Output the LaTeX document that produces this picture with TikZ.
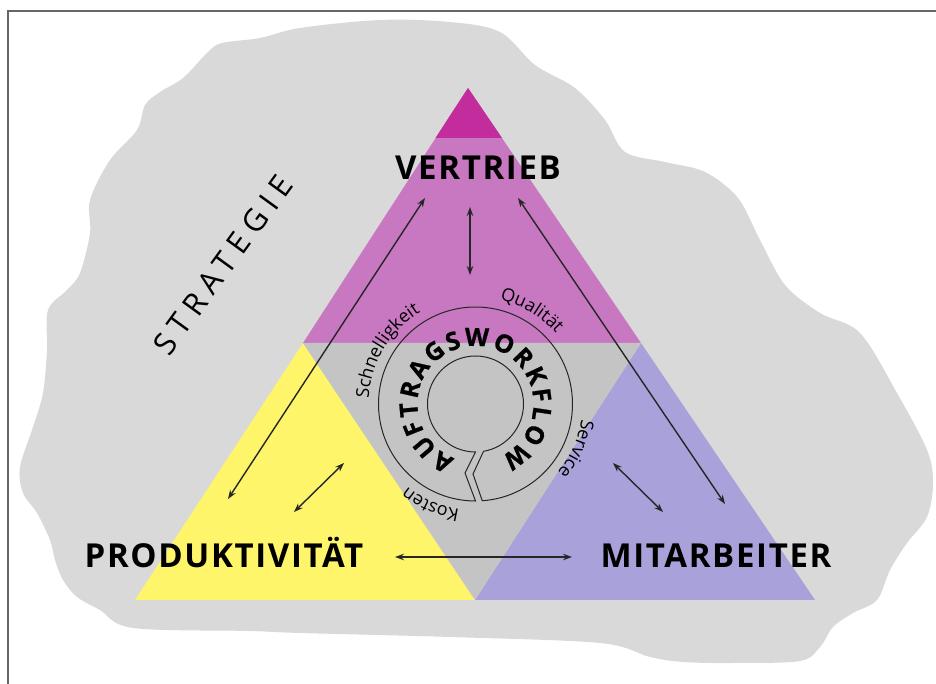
\documentclass[tikz,border=0pt]{standalone}
\usepackage{fontspec}
\setmainfont{Open Sans}
\newfontfamily\labelfont[LetterSpace=5]{Open Sans}
\newfontfamily\stratfont[LetterSpace=24]{Open Sans}
\newfontfamily\flowfam[BoldFeatures={FakeBold=0.8}]{Open Sans}
\usetikzlibrary{arrows.meta,decorations.text}

\definecolor{blobgray}{HTML}{D9D9D9}
\definecolor{coregray}{HTML}{C3C4C3}
\definecolor{salespink}{HTML}{C778C1}
\definecolor{tippink}{HTML}{C22C9C}
\definecolor{prodyellow}{HTML}{FFF56B}
\definecolor{staffblue}{HTML}{A9A1D9}

\newcommand\ringfont{\fontsize{18}{19}\selectfont}
\newcommand\flowfont{\flowfam\bfseries\fontsize{25}{26}\selectfont}

\begin{document}
\begin{tikzpicture}[x=1pt,y=1pt,
	link/.style={{Stealth[length=9pt,width=6.5pt]}-{Stealth[length=9pt,width=6.5pt]}, line width=1.4pt, black!85},
	corner/.style={anchor=base, font=\labelfont\bfseries\fontsize{33}{36}\selectfont},
	ringtext/.style={decorate, decoration={text along path, text align=center, text={|\ringfont|#1}}}]
	\useasboundingbox (0,0) rectangle (936,684);
	\draw[gray!80!black, line width=1.2pt] (8,0) -- (8,673) -- (936,673);

	% strategy cloud
	\fill[blobgray] plot[smooth cycle, tension=0.55] coordinates {
		(222,641) (260,646) (300,656) (380,664) (450,662) (500,652) (535,619) (575,596)
		(605,564) (625,532) (665,522) (705,512) (738,486) (760,444) (785,399) (820,371)
		(860,351) (897,291) (927,234) (933,201) (927,167) (907,141) (890,114) (877,84)
		(853,71) (833,57) (820,37) (800,23) (733,21) (683,22) (650,27) (600,41)
		(450,47) (300,51) (250,53) (133,56) (100,74) (77,87) (63,104) (55,124)
		(50,144) (37,171) (23,191) (20,217) (33,257) (43,291) (47,334) (48,374)
		(67,394) (80,411) (90,451) (90,484) (110,524) (137,554) (145,579) (160,592)
		(183,606) (208,632)};

	% triangle
	\fill[salespink] (468,596) -- (641,341) -- (303,341) -- cycle;
	\fill[tippink] (468,596) -- (502,546) -- (435.5,546) -- cycle;
	\fill[prodyellow] (303,341) -- (475,84) -- (135,84) -- cycle;
	\fill[staffblue] (641,341) -- (815,84) -- (475,84) -- cycle;
	\fill[coregray] (303,341) -- (641,341) -- (475,84) -- cycle;

	% workflow ring
	\coordinate (core) at (475.5,280);
	\draw[line width=1pt, black!85] (core) ++(-85.9:97) arc[start angle=-85.9, end angle=270, radius=97]
		-- (465,211) -- (475.5,232) arc[start angle=270, end angle=-80.4, radius=48]
		-- (473,210) -- (482,184) -- cycle;
	\path[decorate, decoration={text along path, text align=fit to path, text={|\flowfont|AUFTRAGSWORKFLOW}}]
		(core) ++(249:58) arc[start angle=249, end angle=-64, radius=58];
	\path[ringtext=Schnelligkeit] (core) ++(199:107) arc[start angle=199, end angle=99, radius=107];
	\path[ringtext=Qualität] (core) ++(109:107) arc[start angle=109, end angle=9, radius=107];
	\path[ringtext=Service] (core) ++(26:107) arc[start angle=26, end angle=-74, radius=107];
	\path[ringtext=Kosten] (core) ++(296:107) arc[start angle=296, end angle=196, radius=107];

	% labels
	\node[corner] (vertrieb) at (478,504) {VERTRIEB};
	\node[corner] (produkt) at (224,116) {PRODUKTIVITÄT};
	\node[corner] (staff) at (716,116) {MITARBEITER};
	\node[rotate=54, font=\stratfont\fontsize{31}{34}\selectfont] (strategie) at (223,419) {STRATEGIE};

	% arrows
	\coordinate (v1) at (470,477);
	\coordinate (v2) at (470,409);
	\coordinate (l1) at (425,486);
	\coordinate (l2) at (228,185);
	\coordinate (r1) at (518,486);
	\coordinate (r2) at (725,180);
	\coordinate (p1) at (344,221);
	\coordinate (p2) at (294,172);
	\coordinate (m1) at (613,221);
	\coordinate (m2) at (663,172);
	\coordinate (b1) at (395,127);
	\coordinate (b2) at (572,127);
	\draw[link] (v1) -- (v2);
	\draw[link] (l1) -- (l2);
	\draw[link] (r1) -- (r2);
	\draw[link] (p1) -- (p2);
	\draw[link] (m1) -- (m2);
	\draw[link] (b1) -- (b2);
\end{tikzpicture}
\end{document}
